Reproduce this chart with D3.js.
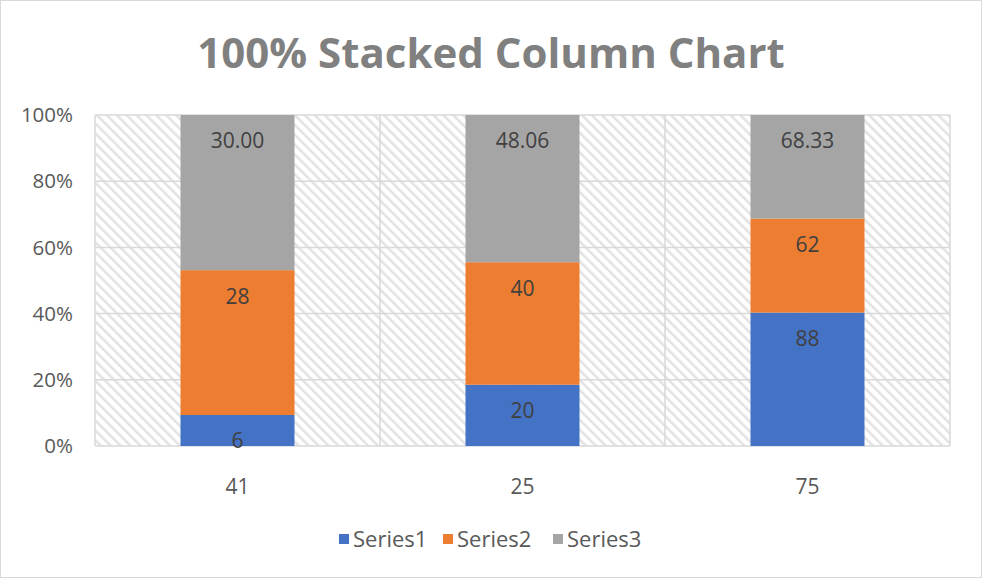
<!DOCTYPE html>
<html>
<head>
<meta charset="utf-8">
<script src="https://cdn.jsdelivr.net/npm/d3@7"></script>
<style>
  body { margin: 0; background: #fff; }
  svg { display: block; }
</style>
</head>
<body>
<svg id="chart" width="982" height="578"></svg>
<script>
// DATA
const categories = ["41", "25", "75"];
const seriesNames = ["Series1", "Series2", "Series3"];
const series1 = [6, 20, 88];
const series2 = [28, 40, 62];
const series3 = [30.0, 48.06, 68.33];
const labelFormats = [d3.format("d"), d3.format("d"), d3.format(".2f")];
const yTicks = [0, 0.2, 0.4, 0.6, 0.8, 1];
const colors = ["#4472c4", "#ed7d31", "#a5a5a5"];

// CANVAS SETUP
const svg = d3.select("#chart");
let margin = { top: 115, right: 32, bottom: 132, left: 95 },
  width = +svg.attr("width") - margin.left - margin.right,
  height = +svg.attr("height") - margin.top - margin.bottom;

const font = "'Open Sans', 'Noto Sans', sans-serif";

svg.append("rect")
  .attr("x", 0.5).attr("y", 0.5)
  .attr("width", 981).attr("height", 577)
  .attr("fill", "#fff").attr("stroke", "#d9d9d9");

// hatch pattern
const defs = svg.append("defs");
const pat = defs.append("pattern")
  .attr("id", "hatch")
  .attr("patternUnits", "userSpaceOnUse")
  .attr("width", 7).attr("height", 7)
  .attr("patternTransform", "rotate(-45)");
pat.append("rect").attr("width", 7).attr("height", 7).attr("fill", "#fff");
pat.append("rect").attr("x", 0).attr("y", 0).attr("width", 2.5).attr("height", 7).attr("fill", "#e2e2e2");

svg.append("text")
  .attr("x", 491).attr("y", 68)
  .attr("text-anchor", "middle")
  .attr("font-family", font)
  .attr("font-weight", 700)
  .attr("font-size", 42)
  .attr("fill", "#808080")
  .text("100% Stacked Column Chart");

const g = svg.append("g").attr("transform", `translate(${margin.left},${margin.top})`);

// DATA MANIPULATE
const table = categories.map((c, i) => ({
  cat: c,
  Series1: series1[i],
  Series2: series2[i],
  Series3: series3[i],
}));
const stack = d3.stack().keys(seriesNames).offset(d3.stackOffsetExpand);
const stacked = stack(table);

// SCALES
const x = d3.scaleBand().domain(categories).range([0, width]);
const barW = x.bandwidth() * 0.4;
const y = d3.scaleLinear().domain([0, 1]).range([height, 0]);

g.append("rect")
  .attr("width", width).attr("height", height)
  .attr("fill", "url(#hatch)");

// gridlines
g.selectAll(".hgrid").data(yTicks).join("line")
  .attr("x1", 0).attr("x2", width)
  .attr("y1", (d) => y(d)).attr("y2", (d) => y(d))
  .attr("stroke", "#d9d9d9").attr("stroke-width", 1.5);
const vlines = [0, ...categories.map((c) => x(c) + x.bandwidth())];
g.selectAll(".vgrid").data(vlines).join("line")
  .attr("x1", (d) => d).attr("x2", (d) => d)
  .attr("y1", 0).attr("y2", height)
  .attr("stroke", "#d9d9d9").attr("stroke-width", 1.5);

// y labels
g.selectAll(".ylab").data(yTicks).join("text")
  .attr("x", -22).attr("y", (d) => y(d))
  .attr("dy", "0.35em")
  .attr("text-anchor", "end")
  .attr("font-family", font).attr("font-size", 20.5)
  .attr("fill", "#595959")
  .text(d3.format(".0%"));

// x labels
g.selectAll(".xlab").data(categories).join("text")
  .attr("x", (d) => x(d) + x.bandwidth() / 2)
  .attr("y", height + 41)
  .attr("dy", "0.35em")
  .attr("text-anchor", "middle")
  .attr("font-family", font).attr("font-size", 21)
  .attr("fill", "#595959")
  .text((d) => d);

// RENDER
const layers = g.selectAll(".layer").data(stacked).join("g")
  .attr("fill", (d, i) => colors[i]);

layers.selectAll("rect").data((d) => d).join("rect")
  .attr("x", (d) => x(d.data.cat) + (x.bandwidth() - barW) / 2)
  .attr("y", (d) => y(d[1]))
  .attr("width", barW)
  .attr("height", (d) => y(d[0]) - y(d[1]));

stacked.forEach((layer, si) => {
  g.selectAll(".lab" + si).data(layer).join("text")
    .attr("x", (d) => x(d.data.cat) + x.bandwidth() / 2)
    .attr("y", (d) => y(d[1]) + 26)
    .attr("dy", "0.35em")
    .attr("text-anchor", "middle")
    .attr("font-family", font).attr("font-size", 21)
    .attr("fill", "#404040")
    .text((d) => labelFormats[si](d.data[layer.key]));
});

// legend
const legendX = [339, 443, 553];
const legend = svg.selectAll(".leg").data(seriesNames).join("g")
  .attr("transform", (d, i) => `translate(${legendX[i]},539)`);
legend.append("rect")
  .attr("x", 0).attr("y", -5)
  .attr("width", 10).attr("height", 10)
  .attr("fill", (d, i) => colors[i]);
legend.append("text")
  .attr("x", 14).attr("y", 0).attr("dy", "0.35em")
  .attr("font-family", font).attr("font-size", 22)
  .attr("fill", "#595959")
  .text((d) => d);
</script>
</body>
</html>
